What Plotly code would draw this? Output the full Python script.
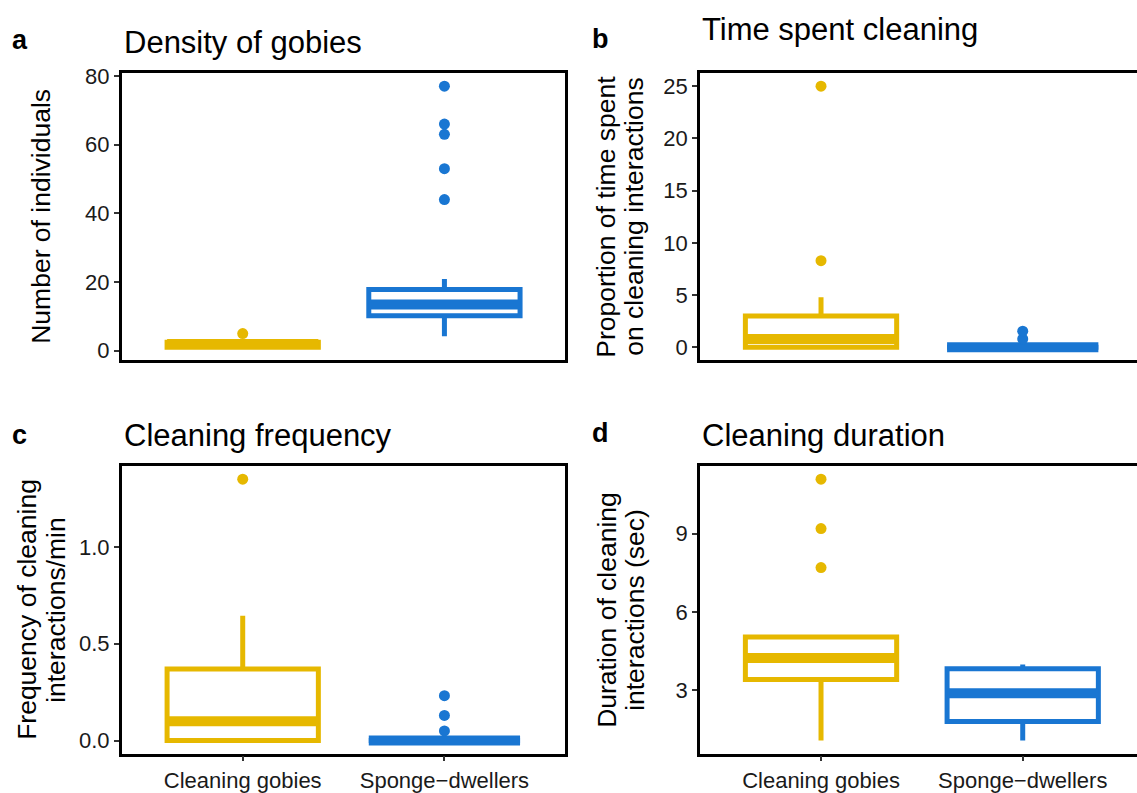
import plotly.graph_objects as go

# ---------------- data ----------------
groups = ["Cleaning gobies", "Sponge−dwellers"]
group_pos = [1, 2]
colors = ["#E6B800", "#1976D2"]

# a: Density of gobies (number of individuals)
a_lower = [1.0, 4.2]
a_q1 = [1.0, 10.2]
a_median = [2.0, 13.5]
a_q3 = [2.5, 17.8]
a_upper = [2.5, 20.9]
a_outliers = [[5.0], [44.0, 53.0, 63.0, 66.0, 77.0]]
a_ticks = [0, 20, 40, 60, 80]

# b: Time spent cleaning (proportion)
b_lower = [0.0, 0.0]
b_q1 = [0.0, 0.0]
b_median = [0.8, 0.0]
b_q3 = [3.0, 0.0]
b_upper = [4.8, 0.0]
b_outliers = [[8.3, 25.0], [0.8, 1.55]]
b_ticks = [0, 5, 10, 15, 20, 25]

# c: Cleaning frequency (interactions/min)
c_lower = [0.0, 0.0]
c_q1 = [0.0, 0.0]
c_median = [0.1, 0.0]
c_q3 = [0.37, 0.0]
c_upper = [0.645, 0.0]
c_outliers = [[1.35], [0.05, 0.13, 0.232]]
c_ticks = [0.0, 0.5, 1.0]

# d: Cleaning duration (sec)
d_lower = [1.05, 1.05]
d_q1 = [3.4, 1.78]
d_median = [4.22, 2.87]
d_q3 = [5.03, 3.81]
d_upper = [5.03, 3.97]
d_outliers = [[7.7, 9.2, 11.1], []]
d_ticks = [3, 6, 9]

panels = [
    dict(key="a", title="Density of gobies", ytitle=["Number of individuals"],
         lower=a_lower, q1=a_q1, med=a_median, q3=a_q3, upper=a_upper, out=a_outliers,
         ticks=a_ticks, fmt=None),
    dict(key="b", title="Time spent cleaning",
         ytitle=["Proportion of time spent", "on cleaning interactions"],
         lower=b_lower, q1=b_q1, med=b_median, q3=b_q3, upper=b_upper, out=b_outliers,
         ticks=b_ticks, fmt=None),
    dict(key="c", title="Cleaning frequency",
         ytitle=["Frequency of cleaning", "interactions/min"],
         lower=c_lower, q1=c_q1, med=c_median, q3=c_q3, upper=c_upper, out=c_outliers,
         ticks=c_ticks, fmt=".1f"),
    dict(key="d", title="Cleaning duration",
         ytitle=["Duration of cleaning", "interactions (sec)"],
         lower=d_lower, q1=d_q1, med=d_median, q3=d_q3, upper=d_upper, out=d_outliers,
         ticks=d_ticks, fmt=None),
]

# ---------------- layout geometry (pixels) ----------------
W, H = 1137, 793
FONT = "Liberation Sans, Arial, sans-serif"
BOX_W = 0.75
px_per_unit = 201.7
cols = [(121.7, 565.4), (700.0, W)]          # plot-area left/right in px
rows = [(64.3, 356.7), (464.3, 757.0)]        # plot-area top/bottom in px
title_y = {"a": 33, "b": 20, "c": 433, "d": 433}
letter_y = {"a": 31, "b": 30, "c": 433, "d": 431}
letter_x = [10, 590]
ytitle_x = [[41], [606, 634]]
ytitle_x_c = [[27, 56], [607, 635]]

fig = go.Figure()
layout = dict(
    width=W, height=H, margin=dict(l=0, r=0, t=0, b=0),
    paper_bgcolor="white", plot_bgcolor="white", showlegend=False,
    font=dict(family=FONT, color="#1a1a1a"),
)
annotations = []

for i, p in enumerate(panels):
    r, c = divmod(i, 2)
    ax = "" if i == 0 else str(i + 1)
    xa, ya = "x" + ax, "y" + ax
    left, right = cols[c]
    top, bottom = rows[r]

    for g in range(2):
        fig.add_trace(go.Box(
            x=[group_pos[g]], q1=[p["q1"][g]], median=[p["med"][g]], q3=[p["q3"][g]],
            lowerfence=[p["lower"][g]], upperfence=[p["upper"][g]],
            boxpoints=False, width=BOX_W, whiskerwidth=0,
            fillcolor="rgba(255,255,255,0)",
            line=dict(color=colors[g], width=5),
            xaxis=xa, yaxis=ya, hoverinfo="skip",
        ))
        fig.add_trace(go.Scatter(
            x=[group_pos[g] - BOX_W / 2, group_pos[g] + BOX_W / 2],
            y=[p["med"][g], p["med"][g]], mode="lines",
            line=dict(color=colors[g], width=10),
            xaxis=xa, yaxis=ya, hoverinfo="skip",
        ))
        if p["out"][g]:
            fig.add_trace(go.Scatter(
                x=[group_pos[g]] * len(p["out"][g]), y=p["out"][g], mode="markers",
                marker=dict(color=colors[g], size=11, line=dict(width=0)),
                xaxis=xa, yaxis=ya, hoverinfo="skip",
            ))

    allv = p["lower"] + p["upper"] + [v for o in p["out"] for v in o]
    lo, hi = min(allv), max(allv)
    span = hi - lo
    yr = [lo - 0.05 * span, hi + 0.05 * span]
    xr = [0.4, 0.4 + (right - left) / px_per_unit]

    show_x = r == 1
    layout["xaxis" + ax] = dict(
        domain=[left / W, right / W], range=xr, anchor=ya,
        showline=True, linecolor="black", linewidth=2.5, mirror=True,
        showgrid=False, zeroline=False,
        tickvals=group_pos if show_x else [], ticktext=groups if show_x else [],
        ticks="outside" if show_x else "", ticklen=5, tickwidth=1.5, tickcolor="#333",
        showticklabels=show_x, tickfont=dict(family=FONT, size=22, color="#1a1a1a"),
    )
    layout["yaxis" + ax] = dict(
        domain=[1 - bottom / H, 1 - top / H], range=yr, anchor=xa,
        showline=True, linecolor="black", linewidth=2.5, mirror=(c == 0),
        showgrid=False, zeroline=False,
        tickvals=p["ticks"], tickformat=p["fmt"],
        ticks="outside", ticklen=5, tickwidth=1.5, tickcolor="#333",
        tickfont=dict(family=FONT, size=22, color="#1a1a1a"),
    )

    annotations.append(dict(
        text=p["title"], xref="paper", yref="paper",
        x=left / W, y=1 - title_y[p["key"]] / H, xanchor="left", yanchor="middle",
        showarrow=False, font=dict(family=FONT, size=31, color="black"),
    ))
    annotations.append(dict(
        text="<b>%s</b>" % p["key"], xref="paper", yref="paper",
        x=letter_x[c] / W, y=1 - letter_y[p["key"]] / H, xanchor="left", yanchor="middle",
        showarrow=False, font=dict(family=FONT, size=27, color="black"),
    ))
    xs = ytitle_x[c] if r == 0 else ytitle_x_c[c]
    for line, lx in zip(p["ytitle"], xs):
        annotations.append(dict(
            text=line, xref="paper", yref="paper", textangle=-90,
            x=lx / W, y=1 - (top + bottom) / 2 / H, xanchor="center", yanchor="middle",
            showarrow=False, font=dict(family=FONT, size=26.5, color="black"),
        ))

layout["annotations"] = annotations
fig.update_layout(**layout)
fig.write_html(
    "out.html",
    config={"displayModeBar": False},
    post_script="document.body.style.margin='0';document.body.style.overflow='hidden';"
                "document.documentElement.style.overflow='hidden';",
)
